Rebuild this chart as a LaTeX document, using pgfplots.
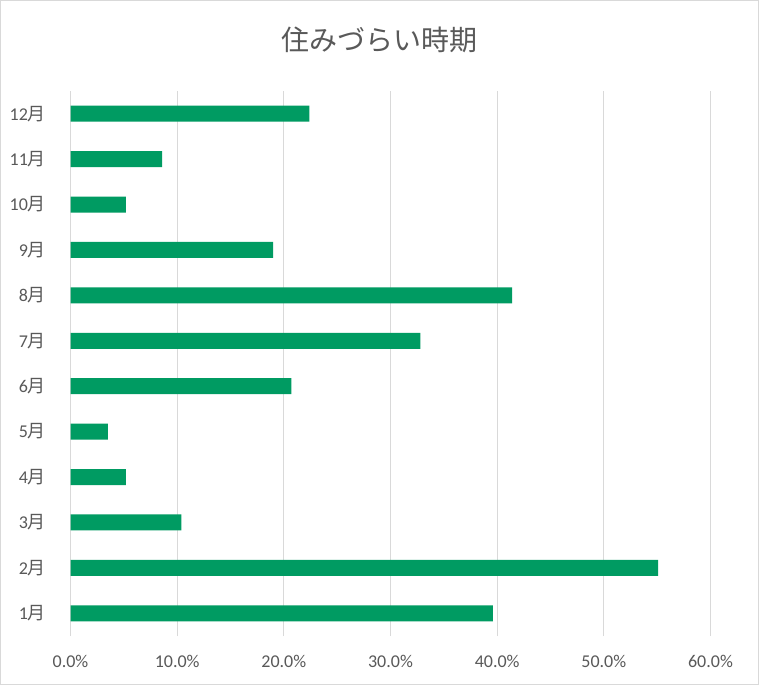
\documentclass[border=0pt]{standalone}
\usepackage{pgfplots}
\pgfplotsset{compat=1.18}
\usepackage{fontspec}
\setmainfont{Carlito}
\newfontfamily\cjk{Noto Sans CJK JP}
\definecolor{bargreen}{RGB}{0,155,98}
\definecolor{txtgray}{HTML}{595959}
\definecolor{gridgray}{HTML}{D9D9D9}
\begin{document}
\begin{tikzpicture}
\path[use as bounding box] (0,0) rectangle (569.25pt,513.75pt);
\fill[white] (0,0) rectangle (569.25pt,513.75pt);
\draw[gridgray, line width=0.75pt] (0.375pt,0.375pt) rectangle (568.875pt,513.375pt);
\node[txtgray, font=\cjk\fontsize{21}{24}\selectfont, anchor=center] at (284.25pt,483.75pt) {住みづらい時期};
\begin{axis}[
  at={(52.875pt,36.75pt)}, anchor=south west,
  scale only axis, width=480pt, height=408.75pt,
  xbar, bar width=12pt,
  xmin=0, xmax=60, ymin=0.5, ymax=12.5,
  xtick={0,10,20,30,40,50,60},
  xticklabels={0.0\%,10.0\%,20.0\%,30.0\%,40.0\%,50.0\%,60.0\%},
  ytick={1,2,3,4,5,6,7,8,9,10,11,12},
  yticklabels={1{\cjk 月},2{\cjk 月},3{\cjk 月},4{\cjk 月},5{\cjk 月},6{\cjk 月},7{\cjk 月},8{\cjk 月},9{\cjk 月},10{\cjk 月},11{\cjk 月},12{\cjk 月}},
  /pgf/number format/assume math mode=true,
  axis line style={draw=none},
  tick style={draw=none},
  xmajorgrids, grid style={gridgray, line width=0.75pt},
  ticklabel style={txtgray, font=\fontsize{13.5}{16}\selectfont},
  yticklabel style={anchor=east, inner sep=0pt, xshift=-14pt},
  xticklabel style={anchor=north, inner sep=0pt, yshift=-14pt},
]
\addplot[fill=bargreen, draw=none] coordinates {
(39.6,1) (55.1,2) (10.4,3) (5.2,4) (3.5,5) (20.7,6) (32.8,7) (41.4,8) (19.0,9) (5.2,10) (8.6,11) (22.4,12)
};
\end{axis}
\end{tikzpicture}
\end{document}
